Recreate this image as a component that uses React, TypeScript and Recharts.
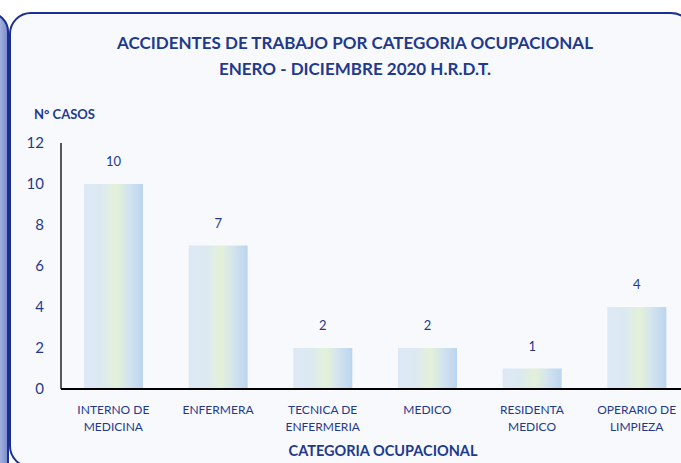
import React from 'react';
import { BarChart, Bar, XAxis, YAxis, LabelList } from 'recharts';

const categories = [
  'INTERNO DE|MEDICINA',
  'ENFERMERA',
  'TECNICA DE|ENFERMERIA',
  'MEDICO',
  'RESIDENTA|MEDICO',
  'OPERARIO DE|LIMPIEZA',
];
const casos = [10, 7, 2, 2, 1, 4];
const yTicks = [0, 2, 4, 6, 8, 10, 12];

const data = categories.map((name, i) => ({ name, casos: casos[i] }));

const FONT = 'Lato, "Open Sans", sans-serif';
const BLUE = '#1f3a8c';

const CategoryTick = (props: any) => {
  const { x, y, payload } = props;
  const lines = String(payload.value).split('|');
  return (
    <g transform={`translate(${x},${y})`}>
      {lines.map((l, i) => (
        <text
          key={i}
          x={0}
          y={17 + i * 17}
          textAnchor="middle"
          fill={BLUE}
          fontSize={12}
          fontFamily={FONT}
        >
          {l}
        </text>
      ))}
    </g>
  );
};

const App = () => {
  return (
    <div
      style={{
        position: 'absolute',
        left: 0,
        top: 0,
        width: 681,
        height: 463,
        overflow: 'hidden',
        background: '#ffffff',
        fontFamily: FONT,
      }}
    >
      {/* edge of the neighbouring panel */}
      <div
        style={{
          position: 'absolute',
          left: -30,
          top: 12,
          width: 35,
          height: 470,
          borderRadius: 22,
          border: '2.5px solid #1a2f8f',
          background: 'linear-gradient(90deg, #ffffff 0%, #c9d3ee 60%, #7d8fcf 100%)',
        }}
      />
      <div
        style={{
          position: 'absolute',
          left: 9,
          top: 12,
          width: 680,
          height: 452,
          borderRadius: 22,
          border: '2.5px solid #1a2f8f',
          background: '#f8f9fc',
        }}
      />
      <div
        style={{
          position: 'absolute',
          left: 0,
          width: 710,
          top: 30,
          textAlign: 'center',
          color: BLUE,
          fontWeight: 700,
          fontSize: 17,
          lineHeight: '26px',
        }}
      >
        ACCIDENTES DE TRABAJO POR CATEGORIA OCUPACIONAL
        <br />
        ENERO - DICIEMBRE 2020 H.R.D.T.
      </div>
      <div
        style={{
          position: 'absolute',
          left: 34,
          top: 106,
          color: BLUE,
          fontWeight: 700,
          fontSize: 13,
        }}
      >
        N° CASOS
      </div>
      <div
        style={{
          position: 'absolute',
          left: 0,
          width: 766,
          top: 442,
          textAlign: 'center',
          color: BLUE,
          fontWeight: 700,
          fontSize: 14.5,
        }}
      >
        CATEGORIA OCUPACIONAL
      </div>
      <div style={{ position: 'absolute', left: 0, top: 0 }}>
        <BarChart
          width={700}
          height={463}
          data={data}
          margin={{ top: 143, right: 11, bottom: 0, left: 0 }}
          barSize={59}
        >
          <defs>
            <linearGradient id="barGrad" x1="0" y1="0" x2="1" y2="0">
              <stop offset="0%" stopColor="#dce8f5" />
              <stop offset="30%" stopColor="#dde9f1" />
              <stop offset="55%" stopColor="#e3f1d8" />
              <stop offset="75%" stopColor="#d4e4ee" />
              <stop offset="100%" stopColor="#bbd5ee" />
            </linearGradient>
          </defs>
          <XAxis
            dataKey="name"
            axisLine={{ stroke: '#000000', strokeWidth: 1.8 }}
            tickLine={false}
            tick={<CategoryTick />}
            interval={0}
            height={74}
          />
          <YAxis
            width={61}
            domain={[0, 12]}
            ticks={yTicks}
            interval={0}
            axisLine={{ stroke: '#000000', strokeWidth: 1.3 }}
            tickLine={false}
            tickSize={0}
            tickMargin={17}
            tick={{ fill: BLUE, fontSize: 15, fontFamily: FONT }}
          />
          <Bar dataKey="casos" fill="url(#barGrad)" isAnimationActive={false}>
            <LabelList
              dataKey="casos"
              position="top"
              offset={18}
              fill={BLUE}
              fontSize={13}
              fontFamily={FONT}
            />
          </Bar>
        </BarChart>
      </div>
    </div>
  );
};

export default App;
